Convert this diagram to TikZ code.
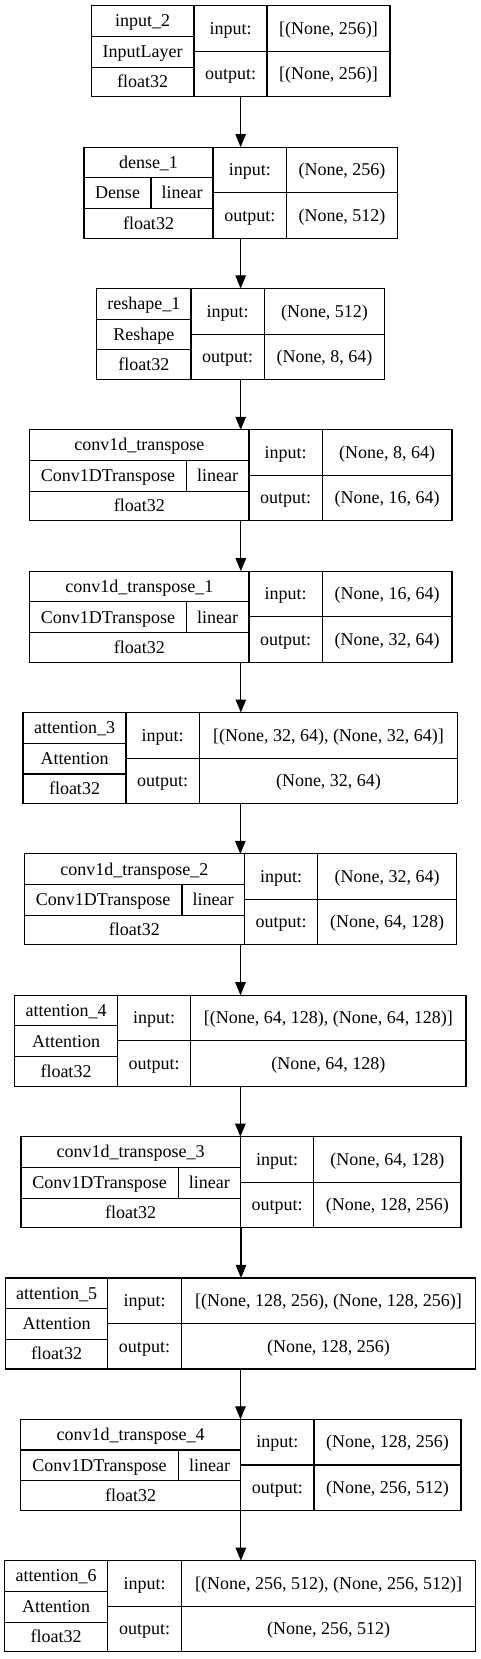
\documentclass[tikz,border=0pt]{standalone}
\usepackage{fontspec}
\setmainfont{Liberation Serif}
\usetikzlibrary{arrows.meta}
\tikzset{
  cellline/.style={line width=1.1pt, draw=black},
  lbl/.style={anchor=base, inner sep=0pt, outer sep=0pt, font=\fontsize{18}{20}\selectfont},
  frame/.style={draw, line width=1.1pt, rectangle, inner sep=0pt, outer sep=0pt, anchor=north west},
  flow/.style={-{Triangle[length=13pt,width=10.5pt]}, line width=1.1pt},
}
% block frame: name, top, x0, x1, x2, x3
\newcommand\blk[6]{%
 \def\cn{#1}\def\ct{#2}\def\xa{#3}\def\xb{#4}\def\xc{#5}\def\xd{#6}%
 \node[frame, minimum width={#6pt-#3pt}, minimum height=91pt] (#1) at (#3,#2) {};
 \draw[cellline] (#4,#2) -- (#4,{#2+91});
 \draw[cellline] (#5,#2) -- (#5,{#2+91});
 \draw[cellline] (#4,{#2+45.7}) -- (#6,{#2+45.7});
 \draw[cellline] (#3,{#2+30.7}) -- (#4,{#2+30.7});
 \draw[cellline] (#3,{#2+61.5}) -- (#4,{#2+61.5});
 \node[lbl] (#1-inl) at ({(#4+#5)/2},{#2+28.6}) {input:};
 \node[lbl] (#1-outl) at ({(#4+#5)/2},{#2+74.1}) {output:};
 \node[lbl] (#1-dt) at ({(#3+#4)/2},{#2+82}) {float32};
}
% name and class (no activation)
\newcommand\nm[2]{%
 \node[lbl] (\cn-nm) at ({(\xa+\xb)/2},{\ct+21.2}) {#1};
 \node[lbl] (\cn-cl) at ({(\xa+\xb)/2},{\ct+51.9}) {#2};
}
% name, class, activation, split x
\newcommand\nma[4]{%
 \node[lbl] (\cn-nm) at ({(\xa+\xb)/2},{\ct+21.2}) {#1};
 \draw[cellline] (#4,{\ct+30.7}) -- (#4,{\ct+61.5});
 \node[lbl] (\cn-cl) at ({(\xa+#4)/2},{\ct+51.9}) {#2};
 \node[lbl] (\cn-act) at ({(#4+\xb)/2},{\ct+51.9}) {#3};
}
% input and output shapes
\newcommand\io[2]{%
 \node[lbl] (\cn-in) at ({(\xc+\xd)/2},{\ct+28.6}) {#1};
 \node[lbl] (\cn-out) at ({(\xc+\xd)/2},{\ct+74.1}) {#2};
}
\begin{document}
\begin{tikzpicture}[x=1pt,y=-1pt]
\useasboundingbox[fill=white] (0,0) rectangle (481,1659);

\blk{b1}{5.7}{91.3}{194}{267}{390}
\nm{input\_2}{InputLayer}
\io{[(None, 256)]}{[(None, 256)]}

\blk{b2}{147.06}{84}{213}{286.7}{397.3}
\nma{dense\_1}{Dense}{linear}{151}
\io{(None, 256)}{(None, 512)}

\blk{b3}{288.42}{96.7}{191}{264.3}{384.7}
\nm{reshape\_1}{Reshape}
\io{(None, 512)}{(None, 8, 64)}

\blk{b4}{429.78}{29.7}{249}{322.3}{452}
\nma{conv1d\_transpose}{Conv1DTranspose}{linear}{186.3}
\io{(None, 8, 64)}{(None, 16, 64)}

\blk{b5}{571.14}{29.7}{249}{322.3}{452}
\nma{conv1d\_transpose\_1}{Conv1DTranspose}{linear}{186.3}
\io{(None, 16, 64)}{(None, 32, 64)}

\blk{b6}{712.5}{23}{126}{199.3}{457.7}
\nm{attention\_3}{Attention}
\io{[(None, 32, 64), (None, 32, 64)]}{(None, 32, 64)}

\blk{b7}{853.86}{24.3}{244.3}{317.7}{456.7}
\nma{conv1d\_transpose\_2}{Conv1DTranspose}{linear}{182}
\io{(None, 32, 64)}{(None, 64, 128)}

\blk{b8}{995.22}{14.7}{117.3}{190.7}{466}
\nm{attention\_4}{Attention}
\io{[(None, 64, 128), (None, 64, 128)]}{(None, 64, 128)}

\blk{b9}{1136.58}{21}{240.3}{313.7}{461}
\nma{conv1d\_transpose\_3}{Conv1DTranspose}{linear}{178.3}
\io{(None, 64, 128)}{(None, 128, 256)}

\blk{b10}{1277.94}{5.3}{107.7}{181.3}{475.7}
\nm{attention\_5}{Attention}
\io{[(None, 128, 256), (None, 128, 256)]}{(None, 128, 256)}

\blk{b11}{1419.3}{20.7}{240.7}{314}{461}
\nma{conv1d\_transpose\_4}{Conv1DTranspose}{linear}{178.3}
\io{(None, 128, 256)}{(None, 256, 512)}

\blk{b12}{1560.66}{4.7}{107.7}{181.7}{475.7}
\nm{attention\_6}{Attention}
\io{[(None, 256, 512), (None, 256, 512)]}{(None, 256, 512)}

\foreach \a/\b in {b1/b2,b2/b3,b3/b4,b4/b5,b5/b6,b6/b7,b7/b8,b8/b9,b9/b10,b10/b11,b11/b12}{
  \draw[flow] (\a.south) -- (\a.south |- \b.north);
}
\end{tikzpicture}
\end{document}
